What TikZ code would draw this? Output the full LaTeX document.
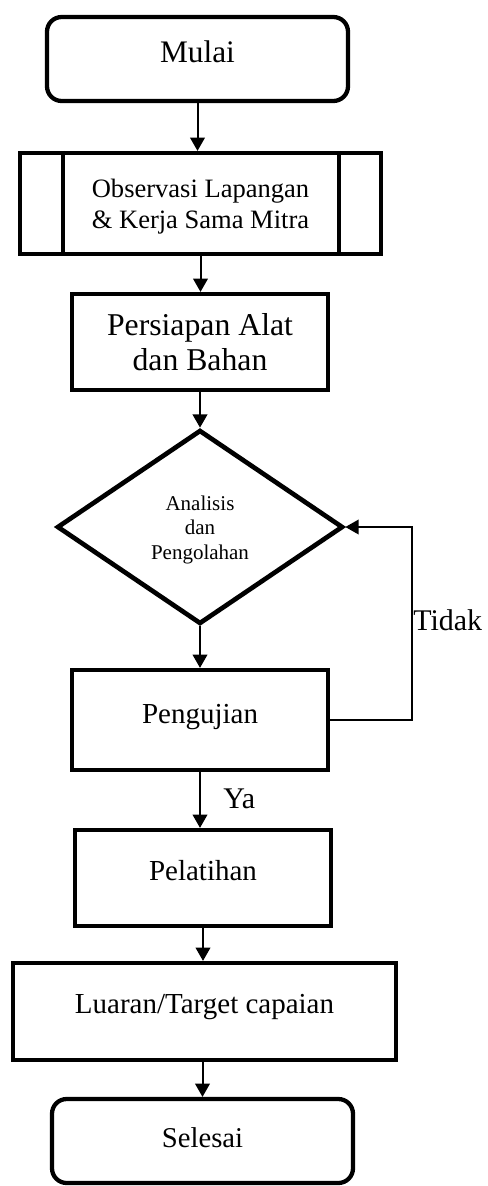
\documentclass[tikz,border=0pt]{standalone}
\usepackage{fontspec}
\setmainfont{Liberation Serif}
\usetikzlibrary{arrows.meta,shapes.geometric}
\tikzset{
  boxline/.style={draw=black, line width=3.2pt},
  procbox/.style={boxline, rectangle, inner sep=0pt, anchor=base, align=flush center},
  termbox/.style={procbox, rounded corners=11pt},
  decbox/.style={draw=black, line width=3.5pt, diamond, inner sep=0pt, align=flush center},
  arr/.style={draw=black, line width=1.5pt, -{Triangle[width=11pt,length=10pt]}},
  fbarr/.style={draw=black, line width=1.2pt, -{Triangle[width=11pt,length=10pt]}},
  lbl/.style={inner sep=0pt, anchor=base west, font=\fontsize{22.5}{27}\selectfont}
}
\begin{document}
\begin{tikzpicture}[x=0.75pt, y=-0.75pt]
\useasboundingbox (0,0) rectangle (488,1186);

\node[termbox, minimum width=225.75pt, text height=33.75pt, text depth=29.25pt,
      font=\fontsize{23.5}{28}\selectfont] (mulai) at (197.5,62) {Mulai};

\node[procbox, text width=270.75pt, text height=33pt, text depth=42.75pt,
      font=\fontsize{19.9}{23.25}\selectfont] (obs) at (200.5,197)
      {Observasi Lapangan\\\& Kerja Sama Mitra};
\draw[boxline] ([xshift=33.75pt]obs.north west) -- ([xshift=33.75pt]obs.south west);
\draw[boxline] ([xshift=-33pt]obs.north east) -- ([xshift=-33pt]obs.south east);

\node[procbox, text width=192pt, text height=30.75pt, text depth=41.25pt,
      font=\fontsize{23.8}{26.25}\selectfont] (pers) at (200,335)
      {Persiapan Alat\\dan Bahan};

\node[decbox, minimum width=214.5pt, minimum height=145.5pt, text width=82.5pt,
      text height=15pt, text depth=40.5pt,
      font=\fontsize{15.75}{18.4}\selectfont] (dia) at (200,527)
      {Analisis\\dan\\Pengolahan};

\node[procbox, minimum width=192pt, text height=39.75pt, text depth=35.25pt,
      font=\fontsize{21.75}{26}\selectfont] (pen) at (200,723) {Pengujian};

\node[procbox, minimum width=192pt, text height=37.5pt, text depth=34.5pt,
      font=\fontsize{21.75}{26}\selectfont] (pel) at (203,880) {Pelatihan};

\node[procbox, minimum width=287.25pt, text height=37.5pt, text depth=35.25pt,
      font=\fontsize{21.75}{26}\selectfont] (lua) at (204.5,1013) {Luaran/Target capaian};

\node[termbox, minimum width=225.75pt, text height=36pt, text depth=27pt,
      font=\fontsize{21.5}{26}\selectfont] (sel) at (202.5,1147) {Selesai};

\coordinate (fb) at (412,527);

\draw[arr] (mulai.south) -- (mulai.south |- obs.north);
\draw[arr] (obs.south) -- (obs.south |- pers.north);
\draw[arr] (pers.south) -- (dia.north);
\draw[arr] (dia.south) -- (dia.south |- pen.north);
\draw[arr] (pen.south) -- (pen.south |- pel.north);
\draw[arr] (pel.south) -- (pel.south |- lua.north);
\draw[arr] (sel.north |- lua.south) -- (sel.north);
\draw[fbarr] (pen.east) -| (fb) -- (dia.east);

\node[lbl] (tidak) at (413,630) {Tidak};
\node[lbl] (ya) at (223,808) {Ya};
\end{tikzpicture}
\end{document}
